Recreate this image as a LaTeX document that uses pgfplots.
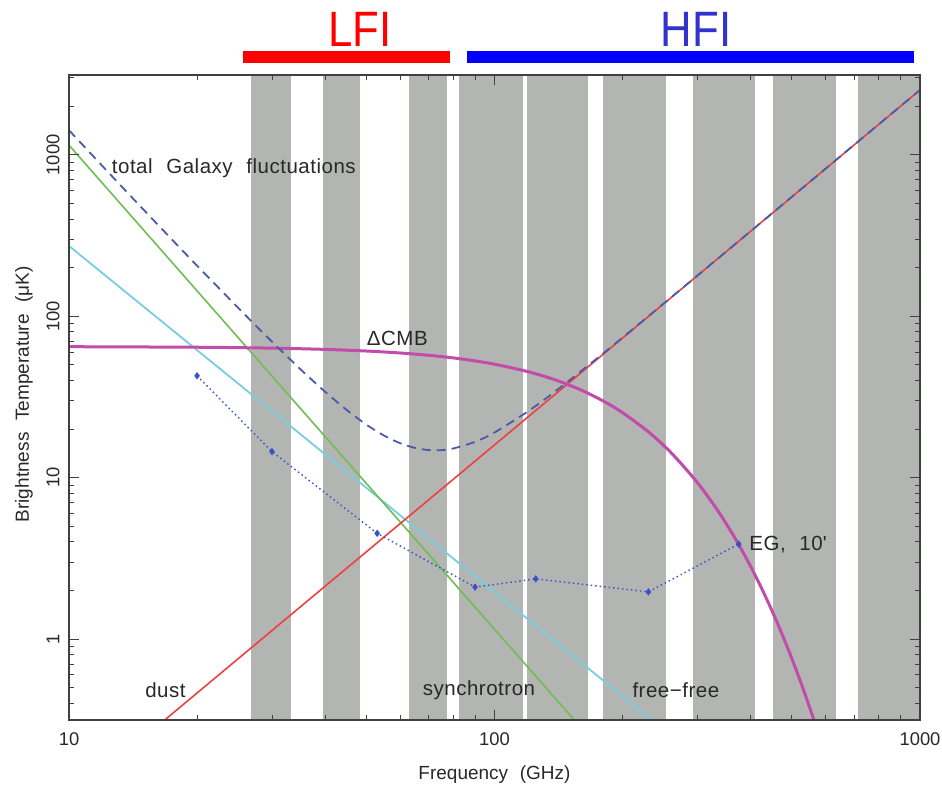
\documentclass[border=0pt]{standalone}
\usepackage{fontspec}
\setmainfont{Liberation Sans}[WordSpace=2.2]
\newfontfamily\lblfont{Liberation Sans}[WordSpace=2.2, LetterSpace=2.5]
\usepackage{pgfplots}
\pgfplotsset{compat=1.18}

\definecolor{bandgray}{RGB}{179,181,179}
\definecolor{framegray}{RGB}{64,64,64}
\definecolor{labelgray}{RGB}{40,40,40}
\definecolor{dustred}{RGB}{238,64,64}
\definecolor{syncgreen}{RGB}{110,190,80}
\definecolor{ffcyan}{RGB}{120,205,222}
\definecolor{cmbmag}{RGB}{195,75,170}
\definecolor{totblue}{RGB}{75,90,170}
\definecolor{egblue}{RGB}{60,80,200}
\definecolor{lfired}{RGB}{255,0,0}
\definecolor{hfitext}{RGB}{50,50,205}
\definecolor{hfibar}{RGB}{0,0,255}

\newcommand{\ticklbl}{\fontsize{18.4}{22}\selectfont}
\newcommand{\lbl}{\lblfont\fontsize{20.5}{24}\selectfont}
\newcommand{\axlbl}{\fontsize{19}{23}\selectfont}
\newcommand{\instr}{\fontsize{49.7}{56}\selectfont}

\begin{document}
\begin{tikzpicture}
\begin{axis}[
  xmode=log, ymode=log,
  scale only axis, width=851pt, height=645pt,
  xmin=10, xmax=1000, ymin=0.315, ymax=3130,
  xtick={10,100,1000}, xticklabels={10,100,1000},
  ytick={1,10,100,1000}, yticklabels={1,10,100,1000},
  minor xtick={20,30,40,50,60,70,80,90,200,300,400,500,600,700,800,900},
  minor ytick={0.4,0.5,0.6,0.7,0.8,0.9,2,3,4,5,6,7,8,9,20,30,40,50,60,70,80,90,200,300,400,500,600,700,800,900,2000,3000},
  axis on top,
  axis line style={draw=framegray, line width=1.2pt},
  every tick/.style={draw=framegray, line width=1pt},
  major tick length=10pt, minor tick length=5pt,
  xticklabel style={font=\ticklbl, text=labelgray, yshift=-9pt},
  yticklabel style={font=\ticklbl, text=labelgray, xshift=-6pt, rotate=90, anchor=south},
  xlabel={Frequency (GHz)},
  xlabel style={font=\axlbl, text=labelgray, at={(axis description cs:0.5,-0.0853)}, anchor=center},
  ylabel={Brightness Temperature (μK)},
  ylabel style={font=\axlbl, text=labelgray, at={(axis description cs:-0.0530,0.505)}, anchor=center},
]
% Planck frequency bands: LFI 30, 44, 70 GHz; HFI 100, 143, 217, 353, 545, 857 GHz
\addplot[draw=none, fill=bandgray] coordinates {(26.8,0.1) (33.2,0.1) (33.2,1e4) (26.8,1e4)} -- cycle;
\addplot[draw=none, fill=bandgray] coordinates {(39.5,0.1) (48.4,0.1) (48.4,1e4) (39.5,1e4)} -- cycle;
\addplot[draw=none, fill=bandgray] coordinates {(62.9,0.1) (77.2,0.1) (77.2,1e4) (62.9,1e4)} -- cycle;
\addplot[draw=none, fill=bandgray] coordinates {(82.7,0.1) (116.9,0.1) (116.9,1e4) (82.7,1e4)} -- cycle;
\addplot[draw=none, fill=bandgray] coordinates {(119.0,0.1) (166.2,0.1) (166.2,1e4) (119.0,1e4)} -- cycle;
\addplot[draw=none, fill=bandgray] coordinates {(179.6,0.1) (253.4,0.1) (253.4,1e4) (179.6,1e4)} -- cycle;
\addplot[draw=none, fill=bandgray] coordinates {(293.3,0.1) (410.2,0.1) (410.2,1e4) (293.3,1e4)} -- cycle;
\addplot[draw=none, fill=bandgray] coordinates {(451.3,0.1) (635.8,0.1) (635.8,1e4) (451.3,1e4)} -- cycle;
\addplot[draw=none, fill=bandgray] coordinates {(713.8,0.1) (1000,0.1) (1000,1e4) (713.8,1e4)} -- cycle;

% free-free
\addplot[ffcyan, line width=1.8pt] coordinates {(10,273) (250,0.2739)};
% synchrotron
\addplot[syncgreen, line width=1.6pt] coordinates {(10,1150) (160,0.2808)};
% dust
\addplot[dustred, line width=1.6pt] coordinates {(15,0.246) (1000,2528)};
% CMB anisotropy in brightness temperature
\addplot[cmbmag, line width=3pt, smooth] coordinates {
 (10,64.83) (20,64.33) (30,63.51) (40,62.38) (50,60.96) (60,59.27) (70,57.36)
 (80,55.24) (90,52.94) (100,50.51) (120,45.38) (140,40.10) (160,34.87) (180,29.89)
 (200,25.29) (230,19.23) (260,14.28) (300,9.301) (340,5.876) (380,3.620)
 (420,2.183) (460,1.294) (500,0.7556) (540,0.4355) (580,0.2484) (620,0.1403)};
% total Galaxy fluctuations
\addplot[totblue, line width=1.8pt, dash pattern=on 9pt off 6pt, smooth] coordinates {
 (10,1423.1) (12,850.3) (14,552.0) (16,380.7) (18,274.9) (20,205.9) (25,112.6)
 (30,69.59) (35,46.98) (40,34.05) (45,26.21) (50,21.32) (55,18.24) (60,16.36)
 (65,15.30) (70,14.83) (75,14.82) (80,15.17) (90,16.68) (100,19.06) (120,25.82)
 (140,34.82) (170,52.13) (200,73.87) (250,120.15) (300,179.1) (400,337.0)
 (500,550.5) (700,1154.6) (1000,2528)};
% extragalactic sources, 10 arcmin
\addplot[egblue, line width=1.4pt, dash pattern=on 1.5pt off 3pt,
  mark=diamond*, mark size=2.6pt, mark options={solid, fill=egblue, draw=egblue}] coordinates {
 (20,42.8) (30,14.5) (53,4.52) (90,2.10) (125,2.36) (230,1.96) (375,3.88)};

\node[anchor=west, inner sep=0, font=\lbl, text=labelgray] at (axis cs:12.6,830) {total Galaxy fluctuations};
\node[anchor=west, inner sep=0, font=\lbl, text=labelgray] at (axis cs:50.1,73.4) {ΔCMB};
\node[anchor=west, inner sep=0, font=\lbl, text=labelgray] at (axis cs:15.1,0.482) {dust};
\node[anchor=west, inner sep=0, font=\lbl, text=labelgray] at (axis cs:67.8,0.482) {synchrotron};
\node[anchor=west, inner sep=0, font=\lbl, text=labelgray] at (axis cs:210.8,0.482) {free−free};
\node[anchor=west, inner sep=0, font=\lbl, text=labelgray] at (axis cs:397,3.82) {EG, 10\textquotesingle};

\coordinate (bbsw) at (rel axis cs:0,0);
\coordinate (bbne) at (rel axis cs:1,1);
\coordinate (lfiA) at (rel axis cs:0.2045,1.0372);
\coordinate (lfiB) at (rel axis cs:0.4477,1.0186);
\coordinate (hfiA) at (rel axis cs:0.4677,1.0372);
\coordinate (hfiB) at (rel axis cs:0.9929,1.0186);
\coordinate (lfiT) at (rel axis cs:0.342,1.0705);
\coordinate (hfiT) at (rel axis cs:0.7368,1.0705);
\end{axis}

\fill[lfired] (lfiA) rectangle (lfiB);
\fill[hfibar] (hfiA) rectangle (hfiB);
\node[inner sep=0, font=\instr, text=lfired, xscale=0.88] at (lfiT) {LFI};
\node[inner sep=0, font=\instr, text=hfitext, xscale=0.88] at (hfiT) {HFI};

\pgfresetboundingbox
\useasboundingbox ([shift={(-69pt,-74pt)}]bbsw) rectangle ([shift={(22pt,75pt)}]bbne);
\end{tikzpicture}
\end{document}
